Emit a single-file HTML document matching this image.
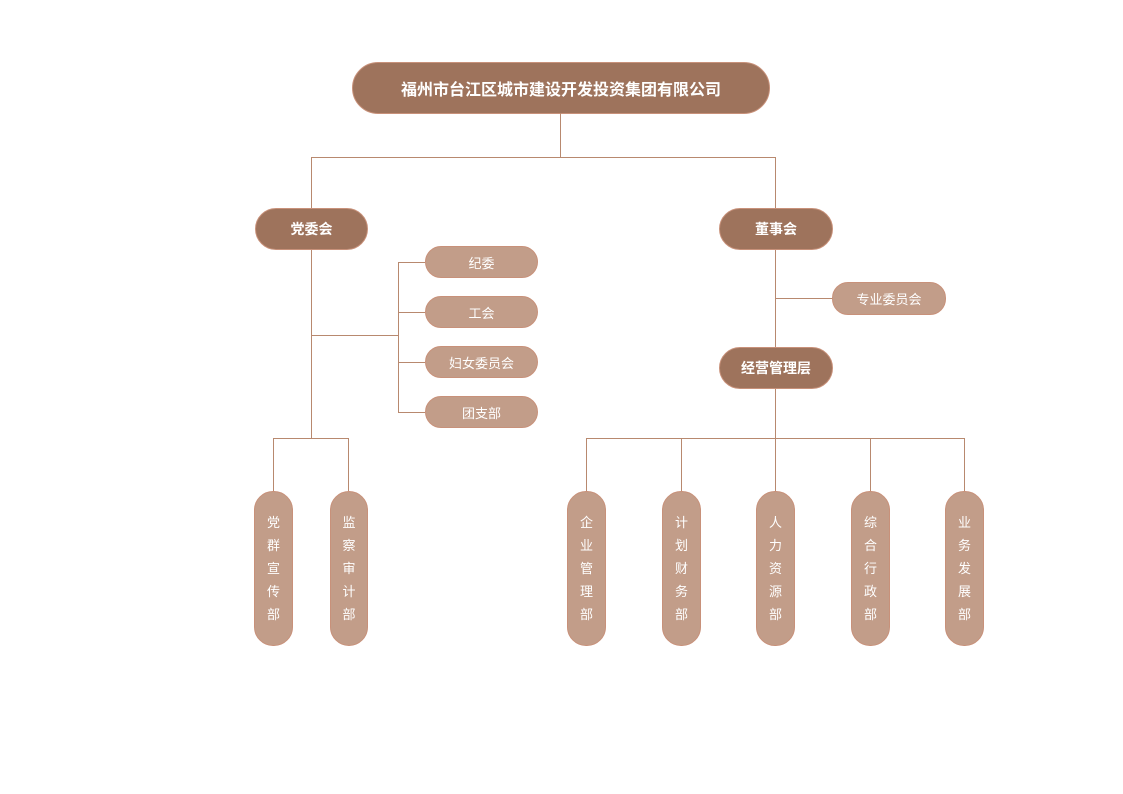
<!DOCTYPE html>
<html><head><meta charset="utf-8"><style>
body{margin:0;width:1123px;height:794px;background:#fff;position:relative;overflow:hidden;font-family:"Liberation Sans","Noto Sans CJK SC",sans-serif}
.b{position:absolute;box-sizing:border-box;display:flex;align-items:center;justify-content:center;color:#fff;border:1px solid #c8917a}
.d{background:#9e735c;font-weight:bold;border-radius:22px;font-size:14px}
.l{background:#c29d89;border-radius:16px;font-size:13px}
.v{background:#c29d89;border-radius:19px;font-size:13px;flex-direction:column;justify-content:flex-start;padding-top:19px;line-height:23px}
.h{position:absolute;height:1px;background:#b8896f}
.w{position:absolute;width:1px;background:#b8896f}
</style></head><body>
<div class="b d" style="left:352px;top:62px;width:418px;height:52px;border-radius:26px;font-size:16px">福州市台江区城市建设开发投资集团有限公司</div>
<div class="w" style="left:560px;top:113px;height:44px"></div>
<div class="h" style="left:311px;top:157px;width:465px"></div>
<div class="w" style="left:311px;top:157px;height:51px"></div>
<div class="w" style="left:775px;top:157px;height:51px"></div>
<div class="b d" style="left:255px;top:208px;width:113px;height:42px">党委会</div>
<div class="b d" style="left:719px;top:208px;width:114px;height:42px">董事会</div>
<div class="w" style="left:311px;top:250px;height:188px"></div>
<div class="h" style="left:311px;top:335px;width:87px"></div>
<div class="w" style="left:398px;top:262px;height:150px"></div>
<div class="h" style="left:398px;top:262px;width:27px"></div>
<div class="h" style="left:398px;top:312px;width:27px"></div>
<div class="h" style="left:398px;top:362px;width:27px"></div>
<div class="h" style="left:398px;top:412px;width:27px"></div>
<div class="b l" style="left:425px;top:246px;width:113px;height:32px">纪委</div>
<div class="b l" style="left:425px;top:296px;width:113px;height:32px">工会</div>
<div class="b l" style="left:425px;top:346px;width:113px;height:32px">妇女委员会</div>
<div class="b l" style="left:425px;top:396px;width:113px;height:32px">团支部</div>
<div class="h" style="left:273px;top:438px;width:76px"></div>
<div class="w" style="left:273px;top:438px;height:53px"></div>
<div class="w" style="left:348px;top:438px;height:53px"></div>
<div class="b v" style="left:254px;top:491px;width:39px;height:155px">党<br>群<br>宣<br>传<br>部</div>
<div class="b v" style="left:330px;top:491px;width:38px;height:155px">监<br>察<br>审<br>计<br>部</div>
<div class="w" style="left:775px;top:250px;height:97px"></div>
<div class="h" style="left:775px;top:298px;width:57px"></div>
<div class="b l" style="left:832px;top:282px;width:114px;height:33px">专业委员会</div>
<div class="b d" style="left:719px;top:347px;width:114px;height:42px">经营管理层</div>
<div class="w" style="left:775px;top:389px;height:102px"></div>
<div class="h" style="left:586px;top:438px;width:379px"></div>
<div class="w" style="left:586px;top:438px;height:53px"></div>
<div class="w" style="left:681px;top:438px;height:53px"></div>
<div class="w" style="left:870px;top:438px;height:53px"></div>
<div class="w" style="left:964px;top:438px;height:53px"></div>
<div class="b v" style="left:567px;top:491px;width:39px;height:155px">企<br>业<br>管<br>理<br>部</div>
<div class="b v" style="left:662px;top:491px;width:39px;height:155px">计<br>划<br>财<br>务<br>部</div>
<div class="b v" style="left:756px;top:491px;width:39px;height:155px">人<br>力<br>资<br>源<br>部</div>
<div class="b v" style="left:851px;top:491px;width:39px;height:155px">综<br>合<br>行<br>政<br>部</div>
<div class="b v" style="left:945px;top:491px;width:39px;height:155px">业<br>务<br>发<br>展<br>部</div>
</body></html>
